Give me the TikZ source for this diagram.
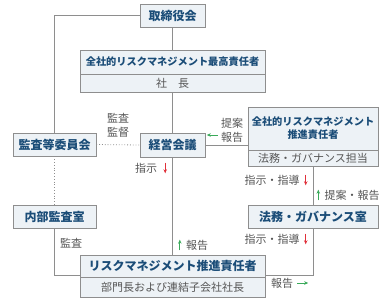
\documentclass[tikz,border=0pt]{standalone}
\usepackage{fontspec}
\setmainfont{Noto Sans CJK JP}
\usetikzlibrary{arrows.meta}
\definecolor{boxfill}{HTML}{EDF2F6}
\definecolor{boxline}{HTML}{8E8E8E}
\definecolor{titleblue}{HTML}{1B4D78}
\definecolor{textgray}{HTML}{555555}
\definecolor{arrred}{HTML}{E0303A}
\definecolor{arrgreen}{HTML}{3AAA5A}
\tikzset{
    orgbox/.style={draw=boxline, fill=boxfill, line width=0.8pt, inner sep=0pt,
        font=\fontsize{12}{13}\selectfont\bfseries, text=titleblue, align=center},
    longbox/.style={orgbox, font=\fontsize{10.2}{13}\selectfont\bfseries},
    subbox/.style={orgbox, font=\fontsize{11}{12}\selectfont, text=textgray},
    link/.style={draw=boxline, line width=0.8pt},
    lbl/.style={font=\fontsize{11}{14}\selectfont, text=textgray, inner sep=0pt, align=center},
    redarr/.style={draw=arrred, line width=0.9pt, -{Stealth[length=4pt,width=3.5pt]}},
    greenarr/.style={draw=arrgreen, line width=0.9pt, -{Stealth[length=4pt,width=3.5pt]}}
}
\begin{document}
\begin{tikzpicture}[x=1pt,y=-1pt]
    \useasboundingbox (0,0) rectangle (390,303);
    % boxes
    \node[orgbox, minimum width=65pt, minimum height=23pt] (board) at (172.5,15.5) {取締役会};
    \node[longbox, minimum width=185pt, minimum height=24pt] (crotitle) at (172.5,62) {全社的リスクマネジメント最高責任者};
    \node[subbox, minimum width=185pt, minimum height=18pt, anchor=north] (crosub) at (crotitle.south) {社\quad 長};
    \node[orgbox, minimum width=83pt, minimum height=23pt] (audit) at (54.5,144.5) {監査等委員会};
    \node[orgbox, minimum width=65pt, minimum height=24pt] (mgmt) at (172.5,145) {経営会議};
    \node[longbox, minimum width=130pt, minimum height=43pt] (promotitle) at (313,128.5) {全社的リスクマネジメント\\推進責任者};
    \node[subbox, minimum width=130pt, minimum height=16pt, anchor=north] (promosub) at (promotitle.south) {法務・ガバナンス担当};
    \node[orgbox, minimum width=83pt, minimum height=23pt] (internal) at (54.5,216.5) {内部監査室};
    \node[orgbox, minimum width=130pt, minimum height=23pt] (legal) at (313,216.5) {法務・ガバナンス室};
    \node[orgbox, minimum width=185pt, minimum height=22pt] (rmtitle) at (172.5,266) {リスクマネジメント推進責任者};
    \node[subbox, minimum width=185pt, minimum height=20pt, anchor=north] (rmsub) at (rmtitle.south) {部門長および連結子会社社長};
    % connectors
    \draw[link] (board.west) -| (audit.north);
    \draw[link] (board.south) -- (crotitle.north);
    \draw[link] (crosub.south) -- (mgmt.north);
    \draw[link, dotted] (audit.east) -- (mgmt.west);
    \draw[link, dotted] (audit.south) -- (internal.north);
    \draw[link] (mgmt.south) -- (rmtitle.north);
    \draw[link] (mgmt.east) -- (mgmt.east -| promotitle.west);
    \draw[link] (promosub.south) -- (legal.north);
    \draw[link] (legal.south) |- ([yshift=2pt]rmtitle.south east);
    \draw[link] (internal.south) |- ([yshift=2pt]rmtitle.south west);
    % labels
    \node[lbl] (supervise) at (118,125) {監査\\監督};
    \node[lbl] (propose) at (232,130) {提案\\報告};
    \draw[greenarr] ([xshift=-3pt,yshift=-5pt]propose.west) -- ++(-11,0);
    \node[lbl] (order) at (146,168) {指示};
    \draw[redarr] ([xshift=8pt]order.north east) -- ([xshift=8pt]order.south east);
    \node[lbl] (guideA) at (272,180) {指示・指導};
    \draw[redarr] ([xshift=6pt]guideA.north east) -- ([xshift=6pt]guideA.south east);
    \node[lbl] (proposeB) at (352,195) {提案・報告};
    \draw[greenarr] ([xshift=-6pt]proposeB.south west) -- ([xshift=-6pt]proposeB.north west);
    \node[lbl] (guideB) at (272,239) {指示・指導};
    \draw[redarr] ([xshift=6pt]guideB.north east) -- ([xshift=6pt]guideB.south east);
    \node[lbl] (inspect) at (71,243) {監査};
    \node[lbl] (reportA) at (197,245) {報告};
    \draw[greenarr] ([xshift=-6pt]reportA.south west) -- ([xshift=-6pt]reportA.north west);
    \node[lbl] (reportB) at (282,283) {報告};
    \draw[greenarr] ([xshift=4pt]reportB.east) -- ++(11,0);
\end{tikzpicture}
\end{document}
